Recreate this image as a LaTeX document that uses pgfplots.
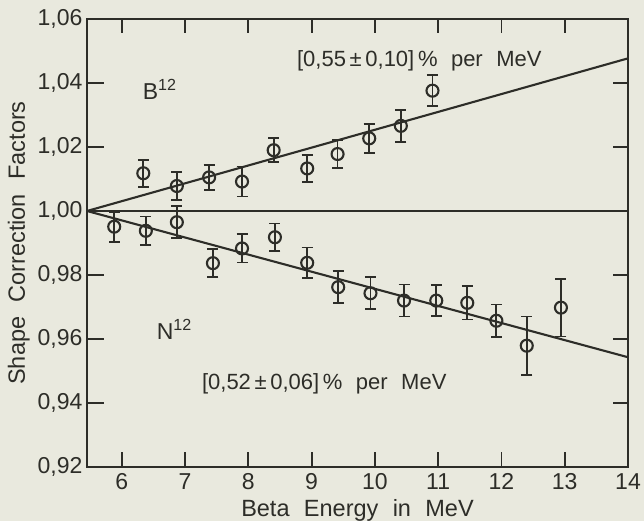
\documentclass[border=0pt]{standalone}
\usepackage{pgfplots}
\pgfplotsset{compat=1.18}
\usepackage{fontspec}
\setmainfont{Liberation Sans}[WordSpace=2.2]
\definecolor{paper}{RGB}{233,233,222}
\definecolor{ink}{RGB}{45,45,40}
\begin{document}
\begin{tikzpicture}
\fill[paper] (-87pt,-54pt) rectangle (557pt,467pt);
\useasboundingbox (-87pt,-54pt) rectangle (557pt,467pt);
\begin{axis}[
  at={(0pt,0pt)}, anchor=south west,
  scale only axis, width=541pt, height=448pt,
  xmin=5.45, xmax=14, ymin=0.92, ymax=1.06,
  xtick={6,7,8,9,10,11,12,13,14},
  ytick={0.92,0.94,0.96,0.98,1.00,1.02,1.04,1.06},
  minor tick num=0,
  tick align=inside, major tick length=14pt,
  tick style={draw=ink, line width=1.8pt},
  axis line style={line width=2pt, draw=ink},
  /pgf/number format/assume math mode=true,
  yticklabel style={xshift=-1pt, /pgf/number format/fixed, /pgf/number format/fixed zerofill, /pgf/number format/precision=2, /pgf/number format/use comma},
  ticklabel style={font=\fontsize{23}{25}\selectfont, text=ink},
  label style={font=\fontsize{23.5}{27}\selectfont, text=ink},
  xticklabel style={yshift=-3pt},
  xlabel={Beta Energy in MeV}, ylabel={Shape Correction Factors},
  xlabel style={yshift=-3pt},
  ylabel style={yshift=1pt},
  clip=false, unbounded coords=jump,
]
% tick marks on the frame, drawn as short segments
\addplot[ink, line width=1.8pt, forget plot] coordinates {
 (6,0.92) (6,0.9247) (6,nan)
 (7,0.92) (7,0.9247) (7,nan)
 (8,0.92) (8,0.9247) (8,nan)
 (9,0.92) (9,0.9247) (9,nan)
 (10,0.92) (10,0.9247) (10,nan)
 (11,0.92) (11,0.9247) (11,nan)
 (12,0.92) (12,0.9247) (12,nan)
 (13,0.92) (13,0.9247) (13,nan)
 (6,1.06) (6,1.0557) (6,nan)
 (7,1.06) (7,1.0557) (7,nan)
 (8,1.06) (8,1.0557) (8,nan)
 (9,1.06) (9,1.0557) (9,nan)
 (10,1.06) (10,1.0557) (10,nan)
 (11,1.06) (11,1.0557) (11,nan)
 (12,1.06) (12,1.0557) (12,nan)
 (13,1.06) (13,1.0557) (13,nan)
 (5.45,0.94) (5.72,0.94) (nan,0.94)
 (5.45,0.96) (5.72,0.96) (nan,0.96)
 (5.45,0.98) (5.72,0.98) (nan,0.98)
 (5.45,1.02) (5.72,1.02) (nan,1.02)
 (5.45,1.04) (5.72,1.04) (nan,1.04)
 (14,0.94) (13.76,0.94) (nan,0.94)
 (14,0.96) (13.76,0.96) (nan,0.96)
 (14,0.98) (13.76,0.98) (nan,0.98)
 (14,1.02) (13.76,1.02) (nan,1.02)
 (14,1.04) (13.76,1.04)
};
% fitted lines
\addplot[ink, line width=2.1pt] coordinates {(5.45,1.0) (14,1.0477)};
\addplot[ink, line width=2.1pt] coordinates {(5.45,1.0) (14,0.9543)};
\addplot[ink, line width=1.8pt] coordinates {(5.45,1.0) (14,1.0)};
% B12
\addplot[ink, only marks, mark=o, mark size=6pt, mark options={line width=2.1pt, fill=paper},
  error bars/.cd, y dir=both, y explicit,
  error bar style={line width=1.8pt, ink},
  error mark options={rotate=90, mark size=5.5pt, line width=1.8pt, ink}]
  table[x=x, y=y, y error=e] {
x y e
6.34 1.0118 0.0042
6.87 1.0078 0.0044
7.38 1.0105 0.0039
7.90 1.0092 0.0047
8.40 1.0190 0.0038
8.93 1.0133 0.0042
9.41 1.0178 0.0044
9.91 1.0227 0.0045
10.41 1.0266 0.0050
10.91 1.0376 0.0048
};
% N12
\addplot[ink, only marks, mark=o, mark size=6pt, mark options={line width=2.1pt, fill=paper},
  error bars/.cd, y dir=both, y explicit,
  error bar style={line width=1.8pt, ink},
  error mark options={rotate=90, mark size=5.5pt, line width=1.8pt, ink}]
  table[x=x, y=y, y error=e] {
x y e
5.88 0.9951 0.0047
6.38 0.9938 0.0045
6.87 0.9965 0.0050
7.44 0.9837 0.0044
7.90 0.9883 0.0044
8.42 0.9918 0.0043
8.93 0.9838 0.0048
9.42 0.9762 0.0050
9.93 0.9743 0.0050
10.46 0.9720 0.0050
10.97 0.9720 0.0048
11.46 0.9713 0.0052
11.92 0.9657 0.0051
12.40 0.9579 0.0091
12.94 0.9698 0.0090
};
\node[text=ink, font=\fontsize{22}{24}\selectfont, anchor=base west, inner sep=0pt] at (axis cs:8.767,1.0450) {[0,55\,±\,0,10]\,\% per MeV};
\node[text=ink, font=\fontsize{23}{24}\selectfont, anchor=base west, inner sep=0pt] at (axis cs:6.33,1.0347) {B\textsuperscript{12}};
\node[text=ink, font=\fontsize{23}{24}\selectfont, anchor=base west, inner sep=0pt] at (axis cs:6.55,0.9597) {N\textsuperscript{12}};
\node[text=ink, font=\fontsize{22}{24}\selectfont, anchor=base west, inner sep=0pt] at (axis cs:7.265,0.9441) {[0,52\,±\,0,06]\,\% per MeV};
\end{axis}
\end{tikzpicture}
\end{document}
